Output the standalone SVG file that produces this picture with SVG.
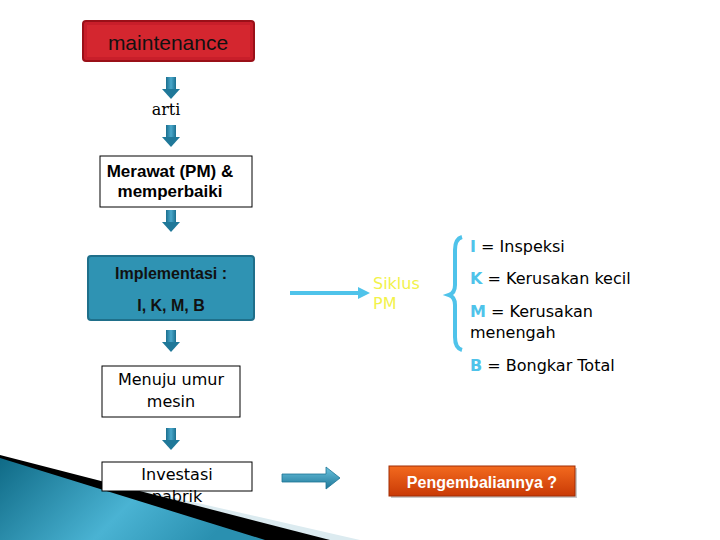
<svg xmlns="http://www.w3.org/2000/svg" width="720" height="540" viewBox="0 0 720 540">
<style>
.box{fill:#fff;stroke:#000;stroke-width:1}
.t{font-family:"DejaVu Sans",sans-serif;font-size:16px;fill:#000;text-anchor:middle}
.b{font-family:"Liberation Sans",Arial,sans-serif;font-weight:bold;text-anchor:middle}
.r{font-family:"DejaVu Sans",sans-serif;font-size:16px;fill:#000}
.k{font-family:"DejaVu Sans",sans-serif;font-weight:bold;font-size:16px;fill:#4fc3ea}
</style>
<defs>
<linearGradient id="dn" x1="0" x2="1"><stop offset="0" stop-color="#1b6f8f"/><stop offset="0.5" stop-color="#4aa8cb"/><stop offset="1" stop-color="#1b6f8f"/></linearGradient>
<linearGradient id="rt" x1="0" y1="0" x2="0" y2="1"><stop offset="0" stop-color="#6cc4e0"/><stop offset="1" stop-color="#1c7596"/></linearGradient>
<linearGradient id="sw" x1="0" y1="0" x2="1" y2="0.3"><stop offset="0" stop-color="#0f6a86"/><stop offset="0.6" stop-color="#4ab3d3"/><stop offset="1" stop-color="#2a90b0"/></linearGradient>
<linearGradient id="or" x1="0" y1="0" x2="0" y2="1"><stop offset="0" stop-color="#f36a1e"/><stop offset="1" stop-color="#c93a06"/></linearGradient>
<g id="da"><rect x="-5" y="0" width="10" height="13" fill="url(#dn)"/><polygon points="-9,12 9,12 0,22" fill="#1f7899"/></g>
</defs>
<rect width="720" height="540" fill="#fff"/>
<g id="background">
<polygon points="0,458 360,540 0,540" fill="#dcebf0"/>
<polygon points="0,455 330,540 0,540" fill="#000"/>
<polygon points="0,458 265,540 0,540" fill="url(#sw)"/>
</g>
<g id="connectors">
<use href="#da" x="171" y="77"/>
<use href="#da" x="171" y="125"/>
<use href="#da" x="171" y="210"/>
<use href="#da" x="171" y="330"/>
<use href="#da" x="171" y="428"/>
<line x1="290" y1="293" x2="360" y2="293" stroke="#4fc3ea" stroke-width="4"/>
<polygon points="358,287 370,293 358,299" fill="#4fc3ea"/>
<path d="M282,474 H326 V467 L340,478 L326,489 V482 H282 Z" fill="url(#rt)" stroke="#1c7596" stroke-width="0.8"/>
<path d="M462,237 Q455,239 455,250 V285 Q455,293 449,295 Q455,297 455,305 V337 Q455,348 462,350" fill="none" stroke="#4fc3ea" stroke-width="4"/>
</g>
<g id="maintenance"><rect x="83" y="21" width="171" height="40" rx="3" fill="#c81e2a" stroke="#9a1018" stroke-width="2"/><rect x="87" y="25" width="163" height="32" fill="#d4262f"/><text x="168" y="50" font-family="Liberation Sans,Arial,sans-serif" font-size="21" fill="#111" text-anchor="middle">maintenance</text></g>
<g id="arti"><text x="166" y="115" class="t" style="font-family:'DejaVu Serif',serif">arti</text></g>
<g id="merawat"><rect x="100" y="156" width="152" height="51" class="box"/><text x="170" y="177" class="b" style="font-size:17px" fill="#000">Merawat (PM) &amp;</text><text x="170" y="197" class="b" style="font-size:17px" fill="#000">memperbaiki</text></g>
<g id="implementasi"><rect x="88" y="256" width="166" height="64" rx="3" fill="#2f93b3" stroke="#1f6f8a" stroke-width="2"/><text x="171" y="279" class="b" style="font-size:16px" fill="#111">Implementasi :</text><text x="171" y="311" class="b" style="font-size:16px" fill="#111">I, K, M, B</text></g>
<g id="menuju"><rect x="102" y="366" width="138" height="51" class="box"/><text x="171" y="385" class="t">Menuju umur</text><text x="171" y="407" class="t">mesin</text></g>
<g id="investasi"><rect x="102" y="462" width="150" height="29" class="box"/><text x="177" y="480" class="t">Investasi</text><text x="177" y="502" class="t">pabrik</text></g>
<g id="siklus"><text x="373" y="289" font-family="DejaVu Sans,sans-serif" font-size="16" fill="#f2f24a">Siklus</text><text x="373" y="309" font-family="DejaVu Sans,sans-serif" font-size="16" fill="#f2f24a">PM</text></g>
<g id="legend">
<text x="470" y="252" class="r"><tspan class="k">I</tspan>  = Inspeksi</text>
<text x="470" y="284" class="r"><tspan class="k">K</tspan> = Kerusakan kecil</text>
<text x="470" y="317" class="r"><tspan class="k">M</tspan> = Kerusakan</text>
<text x="470" y="338" class="r">menengah</text>
<text x="470" y="371" class="r"><tspan class="k">B</tspan>  = Bongkar Total</text>
</g>
<g id="pengembalian"><rect x="391" y="468" width="186" height="30" fill="#777" opacity="0.4"/><rect x="389" y="466" width="186" height="30" fill="url(#or)" stroke="#a02c05"/><text x="482" y="488" class="b" style="font-size:16px" fill="#fff">Pengembaliannya ?</text></g>
</svg>
